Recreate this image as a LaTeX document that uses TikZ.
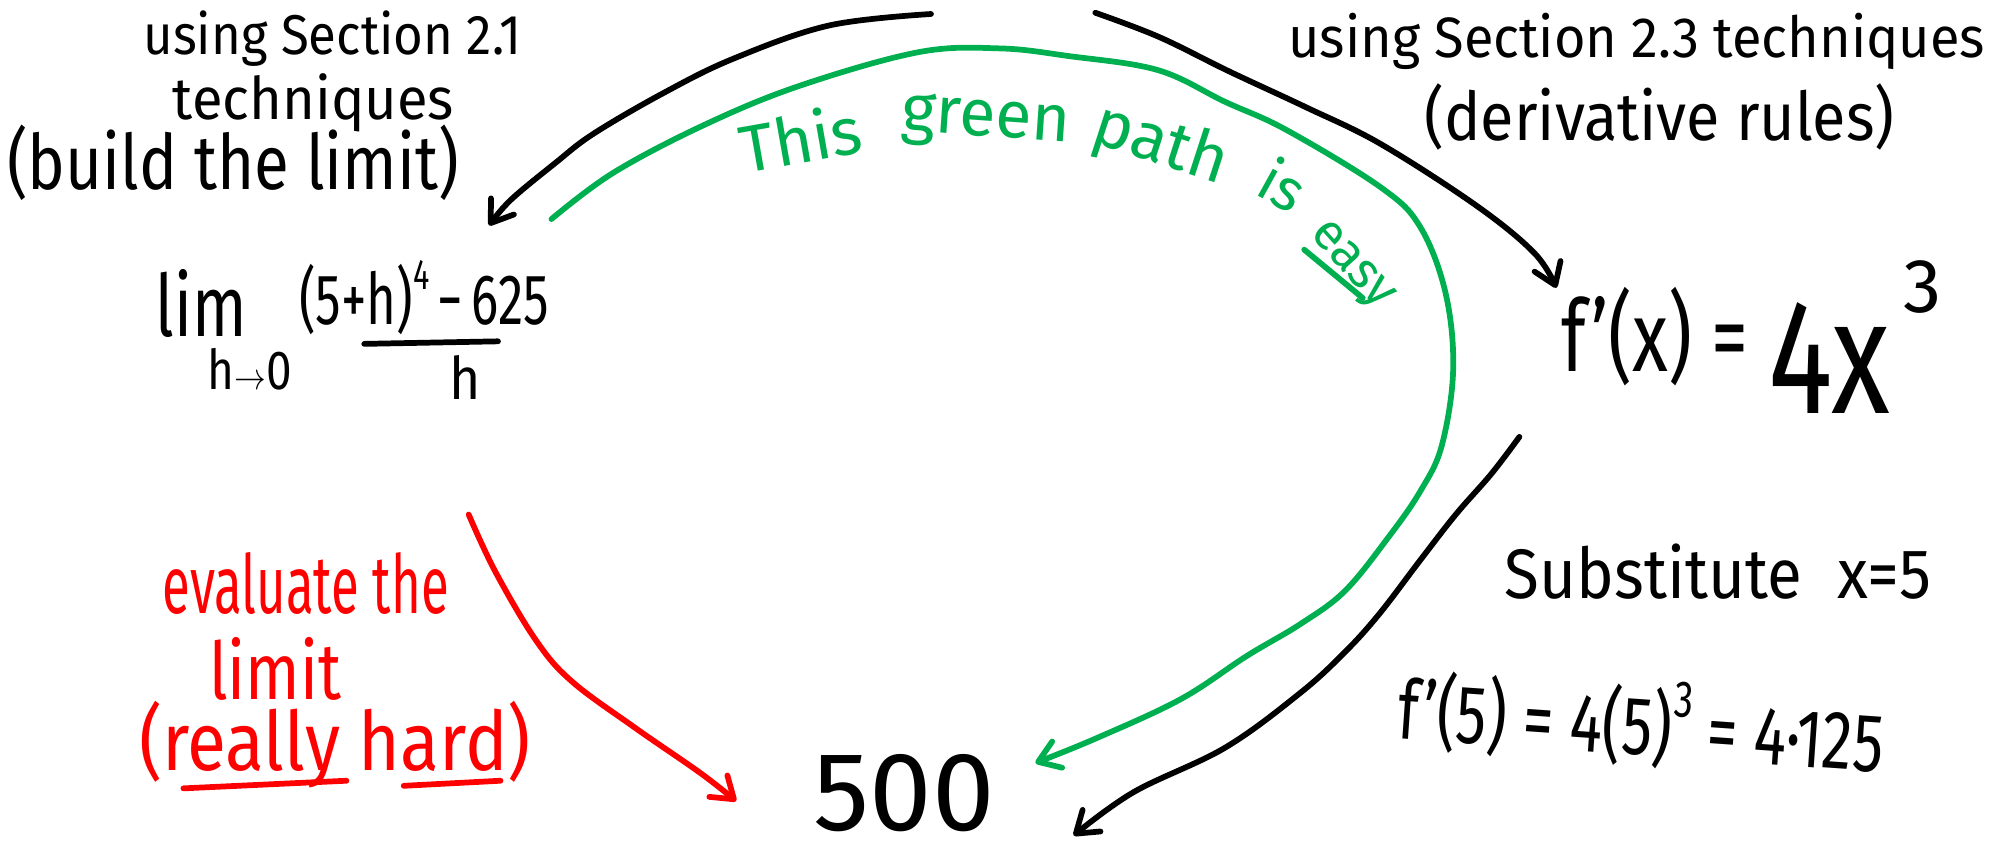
\documentclass[tikz,border=0pt]{standalone}
\usepackage{fontspec}
\setmainfont{Fira Sans}
\usetikzlibrary{arrows.meta}
\definecolor{pgreen}{RGB}{0,176,80}
\definecolor{pred}{RGB}{255,0,0}
\newcommand{\vsc}[2]{\scalebox{1}[#1]{#2}}
\newcommand{\fsz}[1]{\fontsize{#1}{#1}\selectfont}
\newcommand{\supr}[2]{\raisebox{0.5em}{\fsz{#1}#2}}
\begin{document}
\begin{tikzpicture}[x=1pt,y=-1pt,
  txt/.style={inner sep=0pt, anchor=base},
  pen/.style={line width=4.5pt, line cap=round, line join=round},
  arrowtip/.style={-{Straight Barb[length=16pt,width=22pt,round]}}]
\useasboundingbox (0,0) rectangle (1568,662);

% ---- left label
\node[txt] (l1) at (261,43) {\fsz{40}\vsc{1.1}{using Section 2.1}};
\node[txt] (l2) at (246,94) {\fsz{44}\vsc{1.05}{techniques}};
\node[txt] (l3) at (183,149) {\fsz{50}\vsc{1.2}{(build the limit)}};

% ---- right label
\node[txt] (r1) at (1285,45) {\fsz{42.5}\vsc{1.05}{using Section 2.3 techniques}};
\node[txt] (r2) at (1303,110) {\fsz{48}\vsc{1.1}{(derivative rules)}};

% ---- derivative
\node[txt, anchor=base west] (fx) at (1226,292) {\fsz{58}\vsc{1.35}{f’(x) =}};
\node[txt, anchor=base west] (fourx) at (1388,325) {\fsz{95}\vsc{1.35}{4x}};
\node[txt, anchor=base west] (cube) at (1494,245) {\fsz{60}3};

% ---- limit expression
\node[txt] (lim) at (158,264) {\fsz{50}\vsc{1.35}{lim}};
\node[txt] (hto) at (196,306) {\fsz{36}\vsc{1.2}{h$\rightarrow$0}};
\node[txt] (num) at (333,255) {\fsz{40}\vsc{1.4}{(5+h)\supr{24}{4}\,−\,625}};
\coordinate (barL) at (286,270);
\coordinate (barR) at (391,268);
\draw[pen] (barL) -- (barR);
\node[txt] (den) at (365,314) {\fsz{42}\vsc{1.1}{h}};

% ---- substitution
\node[txt] (sub) at (1349,470) {\fsz{50}\vsc{1.1}{Substitute\hspace{0.3em} x=5}};
\node[txt, rotate=-4] (val) at (1287,593) {\fsz{48}\vsc{1.35}{f’(5) = 4(5)\supr{30}{3} = 4·125}};

% ---- result
\node[txt] (res) at (710,652) {\fsz{88}500};

% ---- red text
\node[txt, text=pred] (e1) at (240,482) {\fsz{40}\vsc{1.6}{evaluate the}};
\node[txt, text=pred] (e2) at (216,549) {\fsz{50}\vsc{1.25}{limit}};
\node[txt, text=pred] (e3) at (263,605) {\fsz{56}\vsc{1.15}{(really hard)}};
\draw[pen, pred] (144,619) -- (272,613);
\draw[pen, pred] (317,617) -- (393,613);

% ---- green text
\node[txt, text=pgreen, rotate=10] (g1) at (632,128) {\fsz{52}This};
\node[txt, text=pgreen, rotate=-4] (g2) at (773,107) {\fsz{52}green};
\node[txt, text=pgreen, rotate=-18] (g3) at (907,128) {\fsz{52}path};
\node[txt, text=pgreen, rotate=-29] (g4) at (999,160) {\fsz{46}is};
\node[txt, text=pgreen, rotate=-48] (g5) at (1055,214) {\fsz{40}easy};
\draw[pen, pgreen] (1024,196) -- (1070,234);

% ---- connector end points
\coordinate (topL) at (731,11);
\coordinate (limIn) at (384,177);
\coordinate (topR) at (860,10);
\coordinate (fxIn) at (1222,226);
\coordinate (fxOut) at (1193,343);
\coordinate (resR) at (843,656);
\coordinate (greenS) at (433,172);
\coordinate (resG) at (813,599);
\coordinate (redS) at (368,404);
\coordinate (resL) at (578,629);

% ---- connectors
\draw[pen, arrowtip] plot[smooth, tension=0.6] coordinates {(topL) (651,20) (576,46) (521,73) (466,105) (436,128) (401,157) (limIn)};
\draw[pen, arrowtip] plot[smooth, tension=0.6] coordinates {(topR) (910,29) (965,56) (1025,84) (1084,113) (1160,162) (1205,199) (fxIn)};
\draw[pen, arrowtip] plot[smooth, tension=0.6] coordinates {(fxOut) (1171,372) (1143,404) (1115,440) (1083,482) (1056,512) (1021,544) (962,587) (890,622) (resR)};
\draw[pen, pgreen, arrowtip] plot[smooth, tension=0.6] coordinates {(greenS) (481,136) (551,99) (626,68) (721,41) (785,38) (839,44) (909,55) (962,80) (1010,102) (1084,147) (1115,178) (1135,230) (1141,290) (1132,350) (1115,386) (1090,422) (1056,464) (1021,490) (979,515) (927,549) (860,580) (resG)};
\draw[pen, pred, arrowtip] plot[smooth, tension=0.6] coordinates {(redS) (389,449) (421,503) (449,535) (498,571) (550,607) (resL)};
\end{tikzpicture}
\end{document}
